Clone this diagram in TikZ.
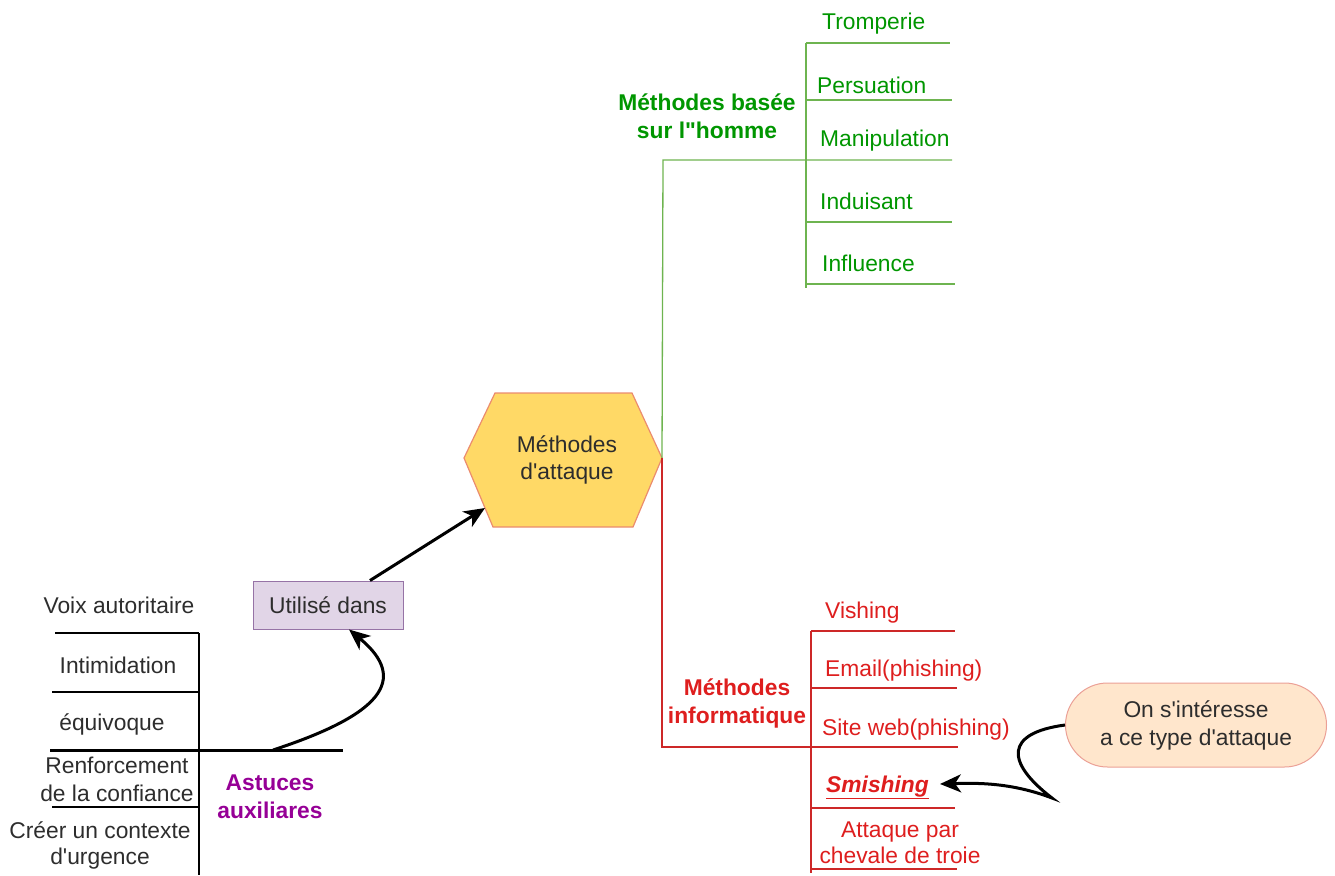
\documentclass[tikz,border=0pt]{standalone}
\usepackage{fontspec}
\setmainfont{Liberation Sans}[Ligatures=TeXOff]
\usetikzlibrary{arrows.meta}
\definecolor{grtxt}{RGB}{0,150,0}
\definecolor{grline}{RGB}{110,180,80}
\definecolor{rdtxt}{RGB}{222,30,30}
\definecolor{rdline}{RGB}{205,40,40}
\definecolor{ink}{RGB}{45,45,45}
\definecolor{purp}{RGB}{150,0,150}
\definecolor{hexfill}{RGB}{255,217,102}
\definecolor{hexline}{RGB}{235,140,110}
\definecolor{lilac}{RGB}{225,213,231}
\definecolor{lilacline}{RGB}{150,115,166}
\definecolor{peach}{RGB}{255,230,204}
\definecolor{peachline}{RGB}{235,160,150}
\begin{document}
\begin{tikzpicture}[x=1pt,y=-1pt,
  every node/.style={font=\fontsize{22.8}{27}\selectfont, inner sep=0pt},
  lbl/.style={anchor=west, text height=16pt, text depth=0pt},
  ctr/.style={align=center},
  grleaf/.style={lbl, text=grtxt},
  rdleaf/.style={lbl, text=rdtxt},
  grtree/.style={draw=grline, line width=1.3pt},
  rdtree/.style={draw=rdline, line width=1.3pt},
  blktree/.style={draw=black, line width=1.5pt},
  link/.style={draw=black, line width=3pt, -{Stealth[length=21pt,width=18pt,inset=6pt]}}]
\useasboundingbox (0,0) rectangle (1335,875);

% ---- central hexagon ----
\coordinate (hW) at (464,458);
\coordinate (hNW) at (495,393);
\coordinate (hNE) at (632,393);
\coordinate (hE) at (662,458);
\coordinate (hSE) at (633,527);
\coordinate (hSW) at (493,527);
\fill[hexfill, draw=hexline, line width=1.2pt] (hW) -- (hNW) -- (hNE) -- (hE) -- (hSE) -- (hSW) -- cycle;
\node[ctr, text=ink] (hex) at (567,460) {Méthodes\\d'attaque};
\coordinate (hexIn) at (485,508);

% ---- green branch: human-based methods ----
\coordinate (gTop) at (663,160);
\draw[grtree] (hE) -- (gTop) -- (952,160);
\draw[grtree] (806,43) -- (806,288);
\foreach \y/\e in {43/950, 100/952, 222/952, 284/955}
  \draw[grtree] (806,\y) -- (\e,\y);
\node[ctr, text=grtxt, font=\fontsize{22.8}{28}\selectfont\bfseries] (ghead) at (707,116) {Méthodes basée\\sur l"homme};
\node[grleaf] (g1) at (822,22) {Tromperie};
\node[grleaf] (g2) at (817,85) {Persuation};
\node[grleaf] (g3) at (820,138) {Manipulation};
\node[grleaf] (g4) at (820,201) {Induisant};
\node[grleaf] (g5) at (822,263) {Influence};

% ---- red branch: computer-based methods ----
\draw[rdtree] (hE) -- (662,747) -- (958,747);
\draw[rdtree] (811,631) -- (811,873);
\foreach \y/\e in {631/955, 688/957, 808/955, 869/957}
  \draw[rdtree] (811,\y) -- (\e,\y);
\node[ctr, text=rdtxt, font=\fontsize{22.8}{28}\selectfont\bfseries] (rhead) at (737,703) {Méthodes\\informatique};
\node[rdleaf] (r1) at (825,610) {Vishing};
\node[rdleaf] (r2) at (825,668) {Email(phishing)};
\node[rdleaf] (r3) at (822,727) {Site web(phishing)};
\node[rdleaf, font=\fontsize{22.8}{27}\selectfont\bfseries\itshape] (r4) at (826,784) {\underline{Smishing}};
\node[ctr, text=rdtxt, font=\fontsize{22.8}{26}\selectfont] (r5) at (900,843) {Attaque par\\chevale de troie};

% ---- left branch: auxiliary tricks ----
\draw[blktree] (199,633) -- (199,875);
\draw[blktree] (55,633) -- (199,633);
\draw[blktree] (52,692) -- (199,692);
\draw[blktree] (52,807) -- (199,807);
\draw[draw=black, line width=3pt] (50,750) -- (343,750);
\coordinate (auxStart) at (273,750);
\node[ctr, text=ink] (b1) at (119,605) {Voix autoritaire};
\node[ctr, text=ink] (b2) at (118,665) {Intimidation};
\node[ctr, text=ink] (b3) at (112,724) {équivoque};
\node[ctr, text=ink, font=\fontsize{22.8}{28}\selectfont] (b4) at (117,779) {Renforcement\\de la confiance};
\node[ctr, text=ink, font=\fontsize{22.8}{26}\selectfont] (b5) at (100,845) {Créer un contexte\\d'urgence};
\node[ctr, text=purp, font=\fontsize{22.8}{28}\selectfont\bfseries] (aux) at (270,797) {Astuces\\auxiliares};

% ---- "Utilisé dans" box ----
\node[draw=lilacline, fill=lilac, line width=1pt, minimum width=150pt, minimum height=48pt, text=ink] (use) at (328,605) {Utilisé dans};

% ---- note box ----
\node[draw=peachline, fill=peach, line width=1pt, rounded corners=42pt, minimum width=261pt, minimum height=84pt, ctr, text=ink, font=\fontsize{22.8}{28}\selectfont] (note) at (1196,725) {On s'intéresse\\a ce type d'attaque};

% ---- connectors ----
\draw[link] (use.north -| 370,0) -- (hexIn);
\draw[link] (auxStart) .. controls (380,715) and (410,680) .. (use.south -| 349,0);
\draw[link] (note.west) .. controls (1005,733) and (1005,762) .. (1052,798)
  .. controls (1010,782) and (975,783) .. (r4.east -| 940,0);
\end{tikzpicture}
\end{document}
